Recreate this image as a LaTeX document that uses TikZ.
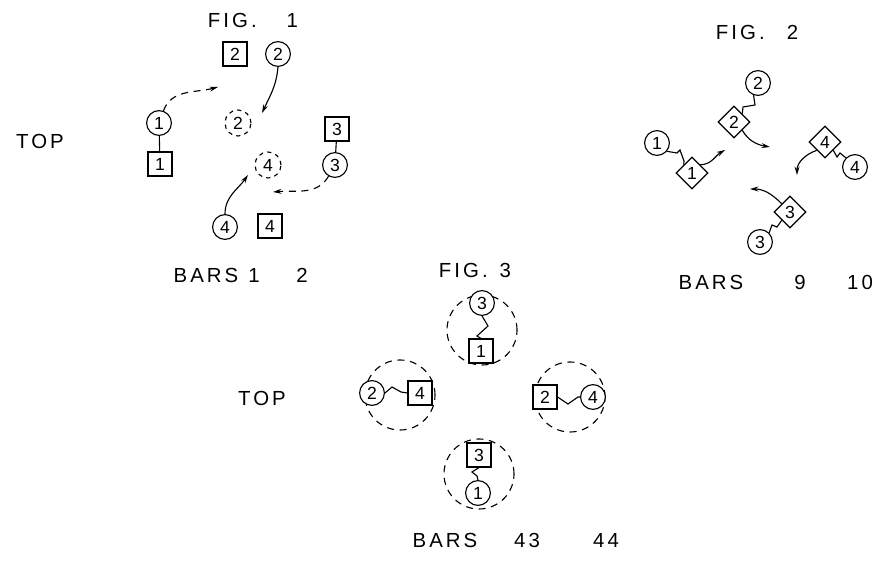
\documentclass[tikz,border=0pt]{standalone}
\usepackage{fontspec}
\setmainfont{Liberation Sans}
\newfontfamily\hand[LetterSpace=15]{Liberation Sans}
\usetikzlibrary{arrows.meta,shapes.geometric}

\begin{document}
\begin{tikzpicture}[x=0.025cm,y=0.025cm,line width=0.8pt,>={Stealth[length=6pt,width=3.5pt]},
  txt/.style={font=\hand\fontsize{14.5}{16}\selectfont,inner sep=0pt},
  num/.style={draw,fill=white,inner sep=0pt,font=\fontsize{12.5}{13}\selectfont},
  rod/.style={num,circle,minimum size=0.62cm},
  box/.style={num,rectangle,minimum size=0.6cm},
  dia/.style={num,diamond,minimum size=0.8cm},
  ghost/.style={circle,draw,dash pattern=on 3pt off 3pt,minimum size=0.65cm,inner sep=0pt,font=\fontsize{12.5}{13}\selectfont},
  ring/.style={circle,draw,dash pattern=on 5pt off 4pt,minimum size=1.75cm,inner sep=0pt},
  dashline/.style={dash pattern=on 5pt off 4pt}]
\useasboundingbox (0,0) rectangle (890,562);

% fig 1
\node[txt] (top1) at (40,421) {TOP};
\node[txt] (fig1) at (253,542) {FIG.\hspace{0.75cm}1};
\node[box] (q2) at (235,508) {2};
\node[rod] (c2) at (278,508) {2};
\node[rod] (c1) at (159,439) {1};
\node[box] (q1) at (160,398) {1};
\node[ghost] (g2) at (238,439) {2};
\node[box] (q3) at (337,433) {3};
\node[rod] (c3) at (335,397) {3};
\node[ghost] (g4) at (268,397) {4};
\node[rod] (c4) at (225,335) {4};
\node[box] (q4) at (270,336) {4};
\draw (c1) -- (q1);
\draw (q3) -- (c3);
\coordinate (a1) at (218,475);
\coordinate (a2) at (262,449);
\coordinate (a3) at (273,370);
\coordinate (a4) at (248,387);
\draw[dashline,->] (c1.70) to[out=70,in=195] (a1);
\draw[->] (c2.south) to[out=-95,in=65] (a2);
\draw[dashline,->] (c3.240) to[out=240,in=5] (a3);
\draw[->] (c4.north) to[out=90,in=235] (a4);
\node[txt] (bars1) at (206,287) {BARS};
\node[txt] (n1) at (254,287) {1};
\node[txt] (n2) at (302,287) {2};

% fig 2
\node[txt] (fig2) at (757,530) {FIG.\hspace{0.55cm}2};
\node[rod] (e2) at (758,479) {2};
\node[dia] (d2) at (734,440) {2};
\node[rod] (e1) at (657,419) {1};
\node[dia] (d1) at (692,389) {1};
\node[dia] (d4) at (825,420) {4};
\node[rod] (e4) at (855,395) {4};
\node[dia] (d3) at (790,350) {3};
\node[rod] (e3) at (760,320) {3};
\draw (e2.250) -- (755,457) -- (743,455) -- (d2.north east);
\draw (e1.-40) -- (677,409) -- (680,412) -- (684,401) -- (d1.north west);
\draw (d4.south east) -- (837,405) -- (840,409) -- (e4.north west);
\draw (e3.north east) -- (772,337) -- (777,335) -- (d3.south west);
\coordinate (p1) at (725,412);
\coordinate (p2) at (770,415);
\coordinate (p4) at (797,387);
\coordinate (p3) at (750,373);
\draw[->] (d1.north east) to[out=0,in=210] (p1);
\draw[->] (d2.south east) to[out=-60,in=170] (p2);
\draw[->] (d4.south west) to[out=200,in=90] (p4);
\draw[->] (d3.north west) to[out=135,in=0] (p3);
\node[txt] (bars2) at (711,280) {BARS};
\node[txt] (n9) at (800,280) {9};
\node[txt] (n10) at (860,280) {10};

% fig 3
\node[txt] (top3) at (262,164) {TOP};
\node[txt] (fig3) at (475,292) {FIG.\hspace{0.3cm}3};
\node[ring] (rt) at (482,232) {};
\node[ring] (rl) at (400,167) {};
\node[ring] (rr) at (570,165) {};
\node[ring] (rb) at (479,88) {};
\node[rod] (t3) at (482,259) {3};
\node[box] (t1) at (481,211) {1};
\node[rod] (l2) at (372,169) {2};
\node[box] (l4) at (420,169) {4};
\node[box] (r2) at (545,165) {2};
\node[rod] (r4) at (593,165) {4};
\node[box] (u3) at (479,107) {3};
\node[rod] (u1) at (478,69) {1};
\draw (t3.south) -- (488,236) -- (477,226) -- (t1.north);
\draw (l2.east) -- (392,175) -- (401,170) -- (l4.west);
\draw (r2.east) -- (568,158) -- (578,165) -- (r4.west);
\draw (u3.south) -- (472,90) -- (477,86) -- (u1.north);
\node[txt] (bars3) at (445,22) {BARS};
\node[txt] (n43) at (527,22) {43};
\node[txt] (n44) at (606,22) {44};
\end{tikzpicture}
\end{document}
